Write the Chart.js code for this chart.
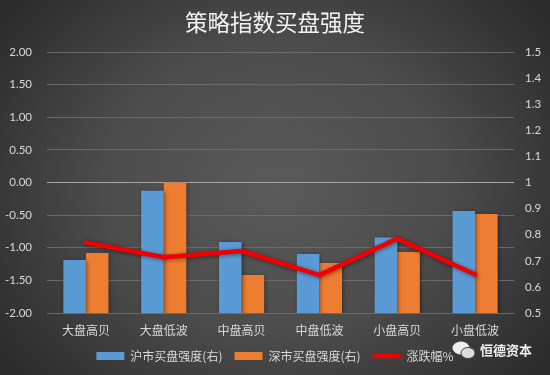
<!DOCTYPE html>
<html><head><meta charset="utf-8">
<script src="https://cdn.jsdelivr.net/npm/chart.js@4"></script>
<style>
html,body{margin:0;padding:0;background:#333}
#wrap{position:relative;width:550px;height:375px;overflow:hidden;background:radial-gradient(ellipse 340px 290px at 50% 50%,#5a5a5a 0%,#4c4c4c 50%,#2b2b2b 100%)}
canvas{position:absolute;left:0;top:0}
#mark{position:absolute;left:452px;top:341px;width:90px;height:20px}
#mark span{position:absolute;left:28px;top:-1px;font:bold 13px "Noto Sans CJK SC";color:#f0f0f0;white-space:nowrap}
#mark svg{position:absolute;left:0;top:0}
</style></head>
<body><div id="wrap"><canvas id="c" width="550" height="375"></canvas>
<div id="mark"><svg width="24" height="20"><ellipse cx="9" cy="7" rx="8.5" ry="6.5" fill="#eee"/><ellipse cx="16" cy="12" rx="7" ry="5.5" fill="#ddd" stroke="#444" stroke-width="1"/></svg><span>恒德资本</span></div>
</div>
<script>
const chartTitle = '策略指数买盘强度';
const categories = ['大盘高贝','大盘低波','中盘高贝','中盘低波','小盘高贝','小盘低波'];
const shName = '沪市买盘强度(右)';
const szName = '深市买盘强度(右)';
const lineName = '涨跌幅%';
const shValues = [0.703,0.968,0.772,0.726,0.789,0.891];
const szValues = [0.730,1.000,0.646,0.692,0.734,0.879];
const lineValues = [-0.92,-1.145,-1.05,-1.42,-0.86,-1.41];
const textColor = '#d9d9d9';
const font = 'Noto Sans CJK SC';

const shadow = {
  id:'shadow',
  beforeDatasetDraw(chart){const c=chart.ctx;c.save();c.shadowColor='rgba(0,0,0,0.45)';c.shadowBlur=4;c.shadowOffsetX=1;c.shadowOffsetY=1;},
  afterDatasetDraw(chart){chart.ctx.restore();}
};

new Chart(document.getElementById('c'),{
  type:'bar',
  plugins:[shadow],
  data:{labels:categories,datasets:[
    {label:shName,data:shValues,yAxisID:'y1',backgroundColor:'#5b9bd5',categoryPercentage:0.58,barPercentage:1,order:1},
    {label:szName,data:szValues,yAxisID:'y1',backgroundColor:'#ed7d31',categoryPercentage:0.58,barPercentage:1,order:1},
    {type:'line',label:lineName,data:lineValues,yAxisID:'y',borderColor:'#f00000',backgroundColor:'#f00000',borderWidth:4.5,tension:0,pointRadius:0,borderCapStyle:'round',borderJoinStyle:'round',order:0}
  ]},
  options:{
    responsive:false,animation:false,
    layout:{padding:{top:0,bottom:3,left:0,right:0}},
    plugins:{
      tooltip:{enabled:false},
      title:{display:true,text:chartTitle,color:'#f2f2f2',font:{family:font,size:22.5,weight:'normal'},padding:{top:9,bottom:16}},
      legend:{position:'bottom',labels:{
        color:textColor,font:{family:font,size:12},usePointStyle:true,pointStyleWidth:28,boxHeight:8,padding:12,
        sort:(a,b)=>a.datasetIndex-b.datasetIndex,
        generateLabels(chart){
          return Chart.defaults.plugins.legend.labels.generateLabels(chart).map(l=>{
            const isLine=l.datasetIndex===2;
            l.pointStyle=isLine?'line':'rect';
            if(isLine){l.strokeStyle='#f00000';l.lineWidth=4.5;} else {l.lineWidth=0;}
            return l;
          });
        }
      }}
    },
    scales:{
      x:{afterFit(s){s.height=25;},grid:{display:false},border:{display:false},ticks:{color:textColor,font:{family:font,size:12},padding:2,maxRotation:0}},
      y:{position:'left',min:-2,max:2,
        afterFit(s){s.width=47;},
        border:{display:false},
        grid:{drawTicks:false,lineWidth:1,color:c=>c.tick.value===0?'#a6a6a6':'#6a6a6a'},
        ticks:{stepSize:0.5,color:textColor,padding:15,font:{family:'Lato',size:11.5},callback:v=>v.toFixed(2)}},
      y1:{position:'right',min:0.5,max:1.5,
        afterFit(s){s.width=36;},
        border:{display:false},
        grid:{display:false,drawTicks:false},
        ticks:{stepSize:0.1,color:textColor,padding:11,font:{family:'Lato',size:11.5},callback:v=>String(Math.round(v*10)/10)}}
    }
  }
});
</script></body></html>
